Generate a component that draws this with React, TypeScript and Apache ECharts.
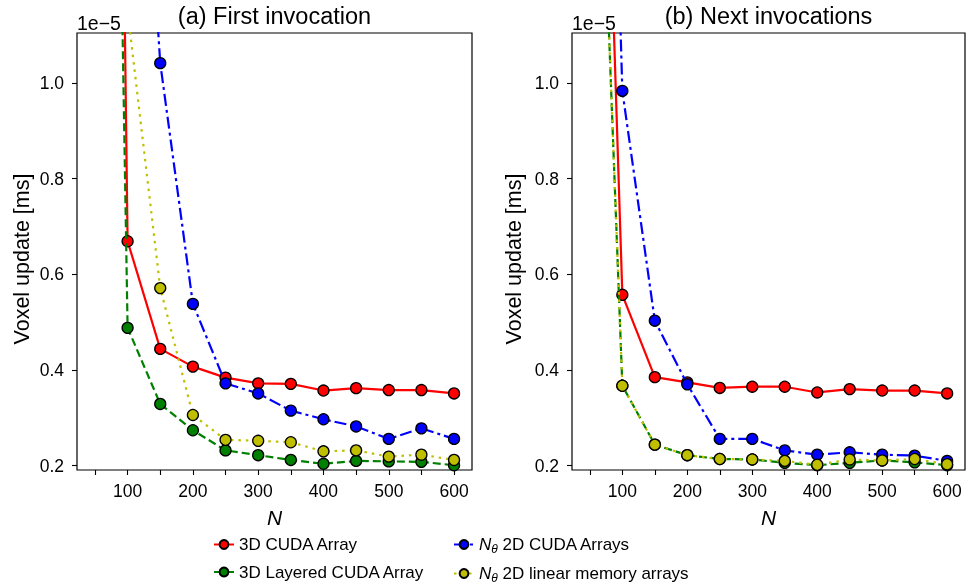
import React, { useEffect, useRef } from 'react';
import * as echarts from 'echarts';

// Data (values in units of 1e-5 ms)
const N = [50, 100, 150, 200, 250, 300, 350, 400, 450, 500, 550, 600];
const xTickValues = [50, 100, 150, 200, 250, 300, 350, 400, 450, 500, 550, 600];
const xLabelValues = [100, 200, 300, 400, 500, 600];
const yTickValues = [0.2, 0.4, 0.6, 0.8, 1.0];
const panelTitles = ['(a) First invocation', '(b) Next invocations'];
const yAxisTitle = 'Voxel update [ms]';
const xAxisTitle = 'N';
const offsetText = '1e\u22125';
const seriesNames = [
  '3D CUDA Array',
  '3D Layered CUDA Array',
  'Nθ 2D CUDA Arrays',
  'Nθ 2D linear memory arrays',
];

// (a) First invocation
const firstCuda3D = [6.0, 0.669, 0.444, 0.407, 0.384, 0.372, 0.371, 0.357, 0.362, 0.358, 0.358, 0.351];
const firstLayered = [4.5, 0.488, 0.329, 0.274, 0.232, 0.222, 0.212, 0.204, 0.21, 0.209, 0.208, 0.201];
const firstCuda2D = [4.0, 2.1, 1.041, 0.538, 0.372, 0.351, 0.315, 0.297, 0.282, 0.256, 0.278, 0.256];
const firstLinear = [3.0, 1.15, 0.571, 0.306, 0.254, 0.252, 0.249, 0.23, 0.232, 0.219, 0.223, 0.212];

// (b) Next invocations
const nextCuda3D = [2.68, 0.557, 0.385, 0.374, 0.3625, 0.365, 0.365, 0.353, 0.36, 0.357, 0.357, 0.351];
const nextLayered = [2.16, 0.367, 0.244, 0.222, 0.214, 0.213, 0.206, 0.201, 0.206, 0.211, 0.207, 0.201];
const nextCuda2D = [3.3, 0.983, 0.503, 0.37, 0.256, 0.256, 0.232, 0.223, 0.228, 0.223, 0.221, 0.21];
const nextLinear = [2.16, 0.367, 0.244, 0.222, 0.214, 0.213, 0.21, 0.202, 0.213, 0.211, 0.214, 0.203];

const FONT = '"Liberation Sans", Arial, Helvetica, sans-serif';
const colors = ['#ff0000', '#008000', '#0000ff', '#bfbf00'];
const dashes: any[] = ['solid', [8, 4], [12, 4, 3, 4], [2.5, 5]];

const grids = [
  { left: 77, top: 33, width: 395, height: 437 },
  { left: 572, top: 33, width: 393, height: 437 },
];
const yLabelX = [22, 514];

function makeSeries(idx: number, values: number[][]) {
  return values.map((vals, k) => ({
    type: 'line',
    name: seriesNames[k],
    xAxisIndex: idx,
    yAxisIndex: idx,
    data: N.map((n, i) => [n, vals[i]]),
    clip: true,
    symbol: 'circle',
    symbolSize: 11,
    showSymbol: true,
    color: colors[k],
    lineStyle: { color: colors[k], width: 2.2, type: dashes[k] },
    itemStyle: { color: colors[k], borderColor: '#000', borderWidth: 1.3 },
    emphasis: { disabled: true },
    z: 2 + k,
  }));
}

export default function App() {
  const ref = useRef<HTMLDivElement>(null);
  useEffect(() => {
    if (!ref.current) return;
    const chart = echarts.init(ref.current, undefined, { renderer: 'svg' });
    const xAxes = grids.map((g, i) => ({
      type: 'value',
      gridIndex: i,
      min: 22.5,
      max: 627.5,
      axisLine: { show: false },
      splitLine: { show: false },
      axisTick: { show: true, length: 5, lineStyle: { color: '#000', width: 1.1 }, customValues: xTickValues },
      axisLabel: { customValues: xLabelValues, fontSize: 17.5, color: '#000', fontFamily: FONT, margin: 12 },
    }));
    const yAxes = grids.map((g, i) => ({
      type: 'value',
      gridIndex: i,
      min: 0.191,
      max: 1.104,
      axisLine: { show: false },
      splitLine: { show: false },
      axisTick: { show: true, length: 5, lineStyle: { color: '#000', width: 1.1 }, customValues: yTickValues },
      axisLabel: {
        customValues: yTickValues,
        fontSize: 17.5,
        color: '#000',
        fontFamily: FONT,
        margin: 13,
        formatter: (v: number) => v.toFixed(1),
      },
    }));
    const graphic: any[] = [];
    grids.forEach((g, i) => {
      const cx = g.left + g.width / 2;
      graphic.push({
        type: 'text',
        x: cx,
        y: 16,
        style: { text: panelTitles[i], fontSize: 23.5, fontFamily: FONT, fill: '#000', textAlign: 'center', textVerticalAlign: 'middle' },
      });
      graphic.push({
        type: 'text',
        x: g.left,
        y: 22.5,
        style: { text: offsetText, fontSize: 19.5, fontFamily: FONT, fill: '#000', textAlign: 'left', textVerticalAlign: 'middle' },
      });
      graphic.push({
        type: 'text',
        x: cx,
        y: 517,
        style: { text: xAxisTitle, fontSize: 21, fontStyle: 'italic', fontFamily: FONT, fill: '#000', textAlign: 'center', textVerticalAlign: 'middle' },
      });
      graphic.push({
        type: 'text',
        x: yLabelX[i],
        y: 259,
        rotation: Math.PI / 2,
        style: { text: yAxisTitle, fontSize: 21.5, fontFamily: FONT, fill: '#000', textAlign: 'center', textVerticalAlign: 'middle' },
      });
    });
    const richText = {
      it: { fontStyle: 'italic', fontSize: 17, fontFamily: FONT, color: '#000', lineHeight: 20 },
      sub: { fontStyle: 'italic', fontSize: 12, fontFamily: FONT, color: '#000', lineHeight: 12, verticalAlign: 'bottom' },
      t: { fontSize: 17, fontFamily: FONT, color: '#000', lineHeight: 20 },
    };
    const fmt = (name: string) => {
      if (name.startsWith('Nθ')) return '{it|N}{sub|θ}{t|' + name.slice(2) + '}';
      return '{t|' + name + '}';
    };
    const legendBase = {
      orient: 'vertical',
      padding: 0,
      height: 60,
      itemWidth: 20,
      itemHeight: 11,
      itemGap: 10.5,
      selectedMode: false,
      formatter: fmt,
      textStyle: { fontSize: 17, fontFamily: FONT, color: '#000', rich: richText },
    };
    chart.setOption({
      animation: false,
      grid: grids.map((g) => ({ ...g, show: true, borderColor: '#000', borderWidth: 1.2, backgroundColor: 'transparent' })),
      xAxis: xAxes,
      yAxis: yAxes,
      legend: [
        { ...legendBase, left: 213, top: 536, data: [seriesNames[0], seriesNames[1]] },
        { ...legendBase, left: 453, top: 536, data: [seriesNames[2], seriesNames[3]] },
      ],
      graphic,
      series: [
        ...makeSeries(0, [firstCuda3D, firstLayered, firstCuda2D, firstLinear]),
        ...makeSeries(1, [nextCuda3D, nextLayered, nextCuda2D, nextLinear]),
      ],
    });
    return () => chart.dispose();
  }, []);
  return <div ref={ref} style={{ position: 'fixed', left: 0, top: 0, width: 966, height: 587 }} />;
}
